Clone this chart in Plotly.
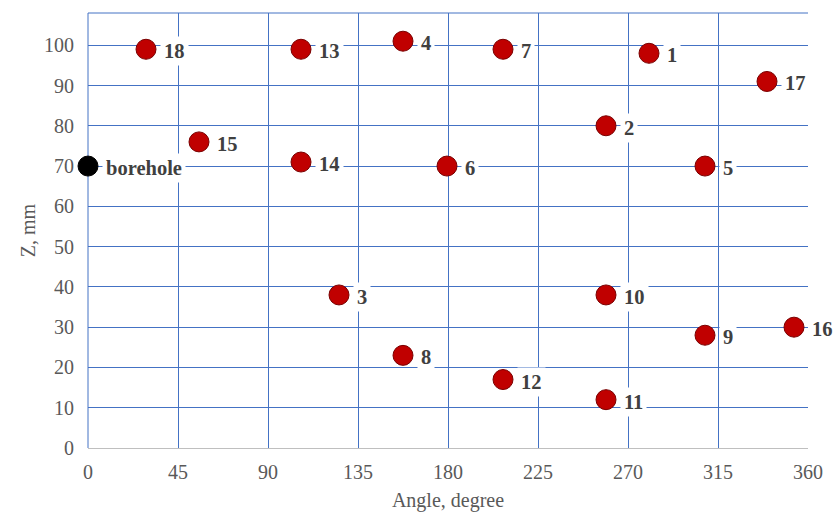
import plotly.graph_objects as go

labels = ["18", "13", "4", "7", "1", "17", "2", "15", "14", "6", "5",
          "3", "10", "9", "16", "8", "12", "11"]
angles = [29, 106.5, 157.5, 207.5, 280.5, 339.5, 259, 55.5, 106.5, 179.5, 308.5,
          125.5, 259, 308.5, 353, 157.5, 207.5, 259]
zvals = [99, 99, 101, 99, 98, 91, 80, 76, 71, 70, 70,
         38, 38, 28, 30, 23, 17, 12]

bh_label = "borehole"
bh_angle = [0]
bh_z = [70]

x_ticks = [0, 45, 90, 135, 180, 225, 270, 315, 360]
y_ticks = [0, 10, 20, 30, 40, 50, 60, 70, 80, 90, 100]

fig = go.Figure()
fig.add_trace(go.Scatter(
    x=angles, y=zvals, mode="markers",
    marker=dict(size=20, color="#C00000", line=dict(color="#7A0000", width=1)),
    showlegend=False, cliponaxis=False))
fig.add_trace(go.Scatter(
    x=bh_angle, y=bh_z, mode="markers",
    marker=dict(size=20, color="#000000", line=dict(color="#000000", width=1)),
    showlegend=False, cliponaxis=False))

lab_font = dict(family="Liberation Serif", size=20.5, color="#404040")
for t, a, z in zip(labels + [bh_label], angles + bh_angle, zvals + bh_z):
    fig.add_annotation(x=a, y=z, text="<b>%s</b>" % t, showarrow=False,
                       xanchor="left", yanchor="middle", xshift=14, yshift=-2,
                       bgcolor="white", borderpad=3, font=lab_font)

grid_col = "#4472C4"
tick_font = dict(family="Liberation Serif", size=20, color="#595959")
fig.update_xaxes(range=[0, 360], tickvals=x_ticks, showgrid=True, gridcolor=grid_col,
                 gridwidth=1, zeroline=False, showline=True, linecolor="#BFBFBF",
                 linewidth=1, ticks="", tickfont=tick_font, ticklabelstandoff=6,
                 title=dict(text="Angle, degree", font=tick_font, standoff=10))
fig.update_yaxes(range=[0, 108], tickvals=y_ticks, showgrid=True, gridcolor=grid_col,
                 gridwidth=1, zeroline=False, showline=False, ticks="",
                 tickfont=tick_font, ticklabelstandoff=13,
                 title=dict(text="Z, mm", font=tick_font, standoff=3))
fig.add_shape(type="line", xref="paper", yref="paper", x0=0, x1=1, y0=1, y1=1,
              line=dict(color=grid_col, width=1))
fig.add_shape(type="line", xref="paper", yref="paper", x0=0, x1=0, y0=0, y1=1,
              line=dict(color=grid_col, width=1), layer="below")

fig.update_layout(width=835, height=512, margin=dict(l=88, r=27, t=13, b=64, autoexpand=False),
                  plot_bgcolor="white", paper_bgcolor="white", hovermode=False)
fig.write_html("out.html", config={"displayModeBar": False},
               post_script="document.body.style.margin='0';")
